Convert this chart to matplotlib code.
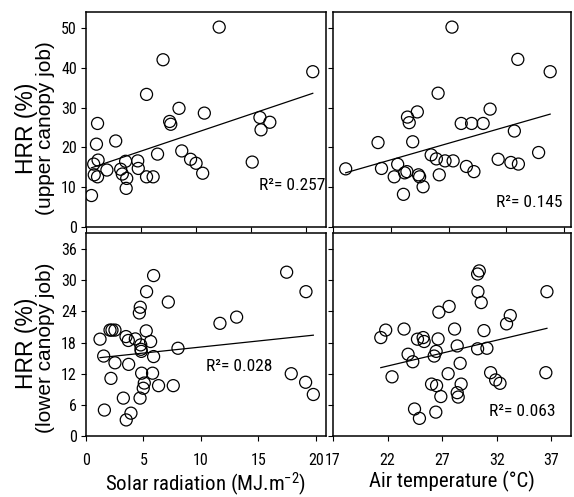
import matplotlib
matplotlib.use('Agg')
import matplotlib.pyplot as plt
import numpy as np

plt.rcParams['font.family'] = ['Roboto Condensed', 'Liberation Sans Narrow', 'Liberation Sans', 'DejaVu Sans']
plt.rcParams['mathtext.default'] = 'regular'

# upper canopy job, HRR vs solar radiation
solar_up_x = [0.5, 0.7, 0.75, 1.1, 0.95, 1.05, 1.05, 1.9, 2.7, 3.15, 3.3, 3.6, 3.7, 3.65,
              4.7, 4.75, 5.5, 5.5, 6.1, 6.5, 7.0, 7.6, 7.7, 8.45, 8.7, 9.5, 10.0, 10.6,
              10.75, 12.1, 15.1, 15.8, 15.9, 16.7, 20.6]
solar_up_y = [7.9, 15.8, 13.1, 16.8, 20.8, 26.0, 12.6, 14.3, 21.6, 14.5, 13.3, 16.5, 12.2, 9.7,
              16.6, 14.7, 12.6, 33.3, 12.6, 18.3, 42.0, 26.5, 25.8, 29.8, 19.1, 17.0, 16.0, 13.5,
              28.6, 50.2, 16.3, 27.5, 24.4, 26.3, 39.0]

# upper canopy job, HRR vs air temperature
temp_up_x = [18.1, 20.9, 21.2, 22.3, 22.6, 23.1, 23.2, 23.4, 23.45, 23.6, 23.9, 24.3, 24.4, 24.5,
             24.8, 25.5, 25.95, 26.1, 26.2, 26.7, 27.3, 27.4, 28.1, 28.55, 29.0, 29.2, 30.0, 30.6,
             31.3, 32.4, 32.7, 33.0, 33.05, 34.8, 35.8]
temp_up_y = [14.6, 21.2, 14.7, 12.6, 15.75, 8.2, 13.6, 13.9, 27.6, 26.2, 21.4, 28.9, 13.1, 12.6,
             10.1, 18.1, 17.1, 33.6, 13.1, 16.6, 50.2, 16.6, 26.0, 15.2, 26.0, 13.9, 26.0, 29.6,
             17.0, 16.2, 24.1, 42.1, 15.8, 18.7, 39.0]

# lower canopy job, HRR vs solar radiation
solar_low_x = [1.22, 1.54, 1.6, 2.09, 2.17, 2.26, 2.52, 2.52, 3.25, 3.48, 3.5, 3.68, 3.71, 3.91,
               4.29, 4.64, 4.72, 4.7, 4.76, 4.78, 4.81, 4.84, 4.98, 5.07, 5.24, 5.27, 5.62, 5.79,
               5.88, 5.88, 6.31, 7.16, 7.59, 8.0, 11.65, 13.1, 17.45, 17.85, 19.1, 19.13, 19.77]
solar_low_y = [18.65, 15.4, 5.0, 20.4, 11.1, 20.4, 20.4, 14.1, 7.3, 19.15, 3.1, 18.4, 13.8, 4.4,
               18.7, 23.7, 24.8, 7.3, 17.55, 16.7, 16.3, 12.1, 9.2, 10.2, 20.25, 27.8, 18.2, 12.1,
               15.3, 30.9, 9.7, 25.8, 9.7, 16.9, 21.7, 22.9, 31.55, 12.0, 10.35, 27.8, 8.0]

# lower canopy job, HRR vs air temperature
temp_low_x = [21.38, 21.83, 22.41, 23.51, 23.88, 24.31, 24.47, 24.74, 24.92, 25.26, 25.35, 26.03,
              26.27, 26.42, 26.45, 26.49, 26.63, 26.7, 26.88, 27.55, 27.64, 28.14, 28.38, 28.38,
              28.47, 28.65, 28.74, 30.25, 30.25, 30.4, 30.28, 30.58, 30.83, 31.1, 31.44, 31.9,
              32.3, 32.9, 33.24, 36.5, 36.6]
temp_low_y = [18.96, 20.4, 11.4, 20.6, 15.75, 14.3, 5.2, 18.65, 3.4, 18.96, 18.2, 10.0,
              15.4, 4.6, 16.3, 9.7, 18.7, 23.85, 7.6, 12.0, 24.95, 20.6, 17.35, 8.35,
              7.5, 14.0, 10.0, 16.8, 31.2, 31.8, 27.8, 25.7, 20.3, 16.9, 12.2, 10.8,
              10.15, 21.6, 23.2, 12.2, 27.8]

r2_labels = ['0.257', '0.145', '0.028', '0.063']
solar_ticks = [0, 5, 10, 15, 20]
temp_ticks = [17, 22, 27, 32, 37]
upper_ticks = [0, 10, 20, 30, 40, 50]
lower_ticks = [0, 6, 12, 18, 24, 30, 36]

fig = plt.figure(figsize=(5.74, 4.97), dpi=100)
ax_tl = fig.add_axes([0.1498, 0.5433, 0.4181, 0.4326])
ax_tr = fig.add_axes([0.5801, 0.5433, 0.4146, 0.4326])
ax_bl = fig.add_axes([0.1498, 0.1227, 0.4181, 0.4085])
ax_br = fig.add_axes([0.5801, 0.1227, 0.4146, 0.4085])

panels = [
    (ax_tl, solar_up_x, solar_up_y, (0, 21.8), (0, 54), solar_ticks, upper_ticks, (0.996, 0.195)),
    (ax_tr, temp_up_x, temp_up_y, (17, 37.6), (0, 54), temp_ticks, upper_ticks, (0.966, 0.112)),
    (ax_bl, solar_low_x, solar_low_y, (0, 20.87), (0, 39.1), solar_ticks, lower_ticks, (0.775, 0.34)),
    (ax_br, temp_low_x, temp_low_y, (17, 38.8), (0, 39.1), temp_ticks, lower_ticks, (0.933, 0.123)),
]

for (ax, x, y, xl, yl, xt, yt, r2pos), r2 in zip(panels, r2_labels):
    x = np.array(x)
    y = np.array(y)
    ax.scatter(x, y, s=75, facecolors='none', edgecolors='black', linewidths=0.9, zorder=3)
    k, b = np.polyfit(x, y, 1)
    xs = np.array([x.min(), x.max()])
    ax.plot(xs, k * xs + b, color='black', lw=0.9)
    ax.set_xlim(*xl)
    ax.set_ylim(*yl)
    ax.set_xticks(xt)
    ax.set_yticks(yt)
    ax.tick_params(direction='out', length=3.5, width=0.8, labelsize=11.5, pad=3)
    ax.tick_params(axis='x', pad=9)
    for s in ax.spines.values():
        s.set_linewidth(1.1)
    ax.text(r2pos[0], r2pos[1], 'R\u00b2= ' + r2, transform=ax.transAxes,
            ha='right', va='center', fontsize=12.5)

ax_tl.tick_params(labelbottom=False)
ax_tr.tick_params(labelbottom=False, labelleft=False)
ax_br.tick_params(labelleft=False)

ax_bl.set_xlabel('Solar radiation (MJ.m$^{-2}$)', fontsize=15, labelpad=1.5)
ax_br.set_xlabel('Air temperature (\u00b0C)', fontsize=15, labelpad=1.5)

ylab_font = ['Liberation Sans', 'DejaVu Sans']
fig.text(0.047, 0.742, 'HRR (%)', rotation=90, ha='center', va='center', fontsize=16.5, family=ylab_font)
fig.text(0.080, 0.742, '(upper canopy job)', rotation=90, ha='center', va='center', fontsize=15, family=ylab_font)
fig.text(0.047, 0.310, 'HRR (%)', rotation=90, ha='center', va='center', fontsize=16.5, family=ylab_font)
fig.text(0.080, 0.300, '(lower canopy job)', rotation=90, ha='center', va='center', fontsize=15, family=ylab_font)

fig.savefig('out.png', dpi=100)
